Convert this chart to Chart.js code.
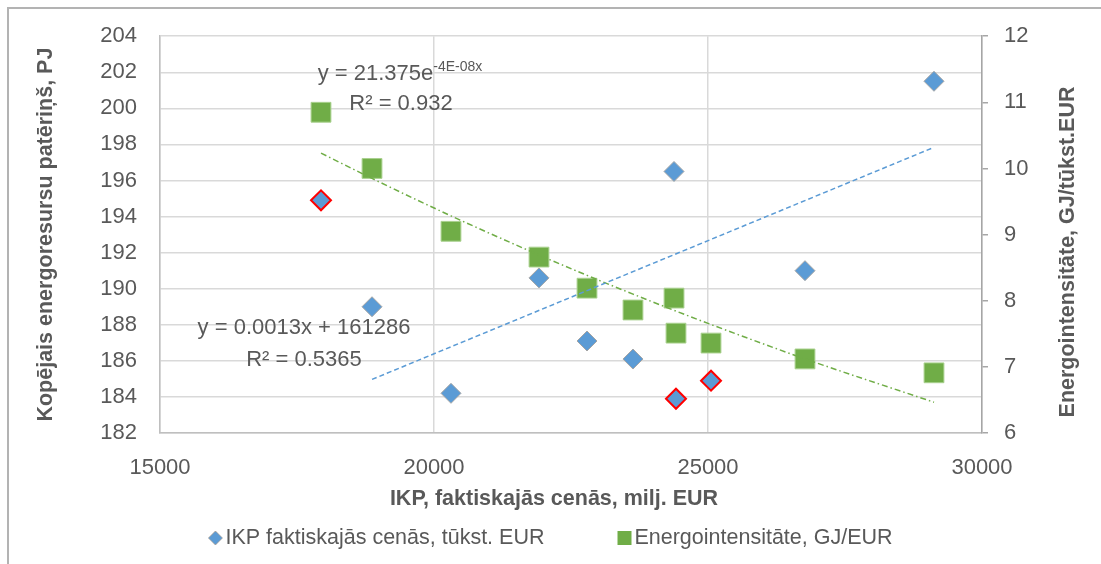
<!DOCTYPE html>
<html><head><meta charset="utf-8">
<script src="https://cdn.jsdelivr.net/npm/chart.js@4.4.1/dist/chart.umd.min.js"></script>
<style>
html,body{margin:0;padding:0;background:#fff;overflow:hidden;}
#wrap{position:relative;width:1101px;height:564px;overflow:hidden;}
#frame{position:absolute;left:7px;top:7px;width:1300px;height:800px;border-left:2px solid #b3b3b3;border-top:2px solid #b3b3b3;pointer-events:none;box-sizing:border-box;}
canvas{position:absolute;left:0;top:0;}
</style></head><body>
<div id="wrap"><canvas id="c" width="1101" height="564"></canvas><div id="frame"></div></div>
<script>
// ---- data ----
const gdp = [17938, 18869, 20310, 21916, 22792, 23631, 24380, 24416, 25055, 26770, 29124];      // IKP, milj. EUR
const energyUse = [194.9, 189.0, 184.2, 190.6, 187.1, 186.1, 196.5, 183.9, 184.9, 191.0, 201.5]; // PJ (left axis)
const intensity = [10.85, 10.0, 9.05, 8.66, 8.19, 7.86, 8.04, 7.51, 7.36, 7.12, 6.91];          // GJ/tūkst.EUR (right axis)
const flagged = [true, false, false, false, false, false, false, true, true, false, false];        // red-outlined, left out of linear fit

const xTickValues = [15000, 20000, 25000, 30000];
const leftTickValues = [182, 184, 186, 188, 190, 192, 194, 196, 198, 200, 202, 204];
const rightTickValues = [6, 7, 8, 9, 10, 11, 12];

const seriesLabels = ['IKP faktiskajās cenās, tūkst. EUR', 'Energointensitāte, GJ/EUR'];
const xTitle = 'IKP, faktiskajās cenās, milj. EUR';
const leftTitle = 'Kopējais energoresursu patēriņš, PJ';
const rightTitle = 'Energointensitāte, GJ/tūkst.EUR';
const expEq = ['y = 21.375e', '-4E-08x'];
const expR2 = 'R² = 0.932';
const linEq = 'y = 0.0013x + 161286';
const linR2 = 'R² = 0.5365';

// ---- least-squares trendlines computed from the data ----
function fitLine(xs, ys) {
  const n = xs.length;
  const mx = xs.reduce((a, b) => a + b, 0) / n, my = ys.reduce((a, b) => a + b, 0) / n;
  let sxy = 0, sxx = 0;
  for (let i = 0; i < n; i++) { sxy += (xs[i] - mx) * (ys[i] - my); sxx += (xs[i] - mx) ** 2; }
  const b = sxy / sxx; return { a: my - b * mx, b };
}
const linX = gdp.filter((_, i) => !flagged[i]);
const linY = energyUse.filter((_, i) => !flagged[i]);
const lf = fitLine(linX, linY);
const linMin = Math.min(...linX), linMax = Math.max(...linX);
const linTrend = [{ x: linMin, y: lf.a + lf.b * linMin }, { x: linMax, y: lf.a + lf.b * linMax }];

const ef = fitLine(gdp, intensity.map(Math.log));
const expTrend = gdp.slice().sort((a, b) => a - b).map(x => ({ x, y: Math.exp(ef.a + ef.b * x) }));

const BLUE = '#5b9bd5', GREEN = '#70ad47', TXT = '#595959', GRID = '#d9d9d9';
const FONT = "'Liberation Sans', Arial, sans-serif";

function icon(kind) {
  const c = document.createElement('canvas');
  const s = 16; c.width = s; c.height = s;
  const g = c.getContext('2d');
  if (kind === 'diamond') {
    g.beginPath(); g.moveTo(8, 1); g.lineTo(15, 8); g.lineTo(8, 15); g.lineTo(1, 8); g.closePath();
    g.fillStyle = BLUE; g.fill(); g.strokeStyle = '#a5a5a5'; g.lineWidth = 1; g.stroke();
  } else {
    g.fillStyle = GREEN; g.fillRect(1, 1, 14, 14);
  }
  return c;
}

const overlay = {
  id: 'overlay',
  afterDraw(chart) {
    const ctx = chart.ctx;
    ctx.save();
    ctx.fillStyle = TXT;
    ctx.textBaseline = 'middle';
    // trendline equations
    ctx.font = `22px ${FONT}`;
    const w1 = ctx.measureText(expEq[0]).width;
    ctx.font = `14px ${FONT}`;
    const w2 = ctx.measureText(expEq[1]).width;
    let cx = 400, start = cx - (w1 + w2) / 2;
    ctx.textAlign = 'left';
    ctx.font = `22px ${FONT}`;
    ctx.fillText(expEq[0], start, 74);
    ctx.font = `14px ${FONT}`;
    ctx.fillText(expEq[1], start + w1, 67);
    ctx.font = `22px ${FONT}`;
    ctx.textAlign = 'center';
    ctx.fillText(expR2, 401, 104);
    ctx.fillText(linEq, 304, 328);
    ctx.fillText(linR2, 304, 360);
    // x axis title
    ctx.font = `bold 21.5px ${FONT}`;
    ctx.fillText(xTitle, 554, 499);
    // right axis title, reading bottom-to-top
    ctx.translate(1068, 252);
    ctx.rotate(-Math.PI / 2);
    ctx.fillText(rightTitle, 0, 0);
    ctx.restore();

    // legend
    ctx.save();
    ctx.font = `21.5px ${FONT}`;
    ctx.fillStyle = TXT;
    ctx.textBaseline = 'middle';
    ctx.textAlign = 'left';
    const icons = [icon('diamond'), icon('square')];
    const iconW = 14, gapIT = 3, gapItems = 73;
    const tw = seriesLabels.map(t => ctx.measureText(t).width);
    const total = iconW * 2 + gapIT * 2 + tw[0] + tw[1] + gapItems;
    let x = chart.width / 2 - total / 2;
    const y = 538;
    for (let i = 0; i < 2; i++) {
      ctx.drawImage(icons[i], x + iconW / 2 - 8, y - 8);
      x += iconW + gapIT;
      ctx.fillText(seriesLabels[i], x, y);
      x += tw[i] + gapItems;
    }
    ctx.restore();
  }
};

const setTicks = (vals) => (scale) => { scale.ticks = vals.map(v => ({ value: v })); };
const plain = (v) => String(v);

new Chart(document.getElementById('c'), {
  type: 'scatter',
  data: {
    datasets: [
      {
        label: 'lin', type: 'line', data: linTrend, yAxisID: 'y', showLine: true,
        borderColor: BLUE, borderWidth: 1.5, borderDash: [5, 3], pointRadius: 0, fill: false, order: 0
      },
      {
        label: 'exp', type: 'line', data: expTrend, yAxisID: 'y2', showLine: true,
        borderColor: GREEN, borderWidth: 1.5, borderDash: [6, 3, 1.5, 3], pointRadius: 0, fill: false,
        cubicInterpolationMode: 'monotone', order: 0
      },
      {
        label: seriesLabels[1], data: gdp.map((x, i) => ({ x, y: intensity[i] })), yAxisID: 'y2',
        pointStyle: 'rect', pointRadius: 14, backgroundColor: GREEN, borderColor: '#a9d18e', borderWidth: 1, order: 1
      },
      {
        label: seriesLabels[0], data: gdp.map((x, i) => ({ x, y: energyUse[i] })), yAxisID: 'y',
        pointStyle: 'rectRot', pointRadius: 10, backgroundColor: BLUE,
        borderColor: flagged.map(f => f ? '#ff0000' : '#a5a5a5'),
        borderWidth: flagged.map(f => f ? 2 : 1), order: 2
      }
    ]
  },
  options: {
    responsive: false, animation: false, devicePixelRatio: 1,
    events: [],
    layout: { padding: { left: 0, right: 0, top: 36, bottom: 50 } },
    plugins: { legend: { display: false }, tooltip: { enabled: false } },
    scales: {
      x: {
        type: 'linear', position: 'bottom', min: 15000, max: 30000,
        afterBuildTicks: setTicks(xTickValues),
        afterFit: (s) => { s.height = 81; },
        grid: { color: GRID, lineWidth: 1.5, drawTicks: false },
        border: { color: '#bfbfbf', width: 1.5 },
        ticks: { color: TXT, font: { family: FONT, size: 22 }, padding: 22, maxRotation: 0, callback: plain },
        title: { display: false, text: xTitle }
      },
      y: {
        type: 'linear', position: 'left', min: 182, max: 204,
        afterBuildTicks: setTicks(leftTickValues),
        afterFit: (s) => { s.width = 160; },
        grid: { color: GRID, lineWidth: 1.5, drawTicks: false },
        border: { color: '#bfbfbf', width: 1.5 },
        ticks: { color: TXT, font: { family: FONT, size: 22 }, padding: 23, callback: plain },
        title: { display: true, text: leftTitle, color: TXT, font: { family: FONT, size: 21.5, weight: 'bold' }, padding: { top: 33, bottom: 0 } }
      },
      y2: {
        type: 'linear', position: 'right', min: 6, max: 12,
        afterBuildTicks: setTicks(rightTickValues),
        afterFit: (s) => { s.width = 119; },
        grid: { drawOnChartArea: false, drawTicks: true, tickLength: 6, color: '#a6a6a6', lineWidth: 1.5 },
        border: { color: '#a6a6a6', width: 1.5 },
        ticks: { color: TXT, font: { family: FONT, size: 22 }, padding: 16, callback: plain }
      }
    }
  },
  plugins: [overlay]
});
</script>
</body></html>
